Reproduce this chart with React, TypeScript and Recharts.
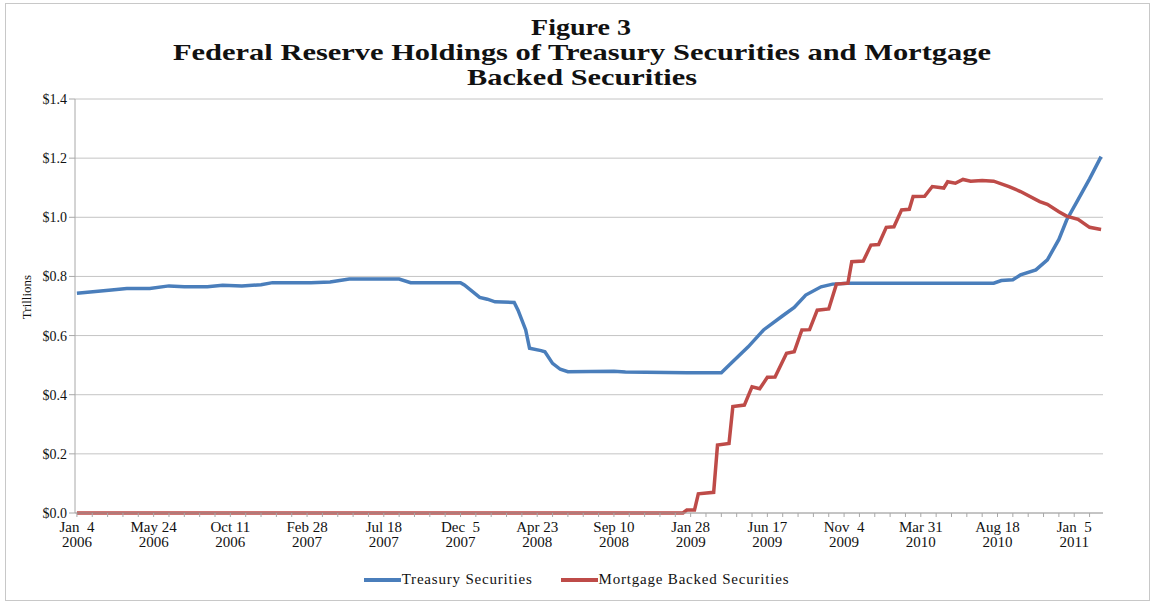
import { LineChart, Line, XAxis, YAxis, CartesianGrid, Legend } from 'recharts';

// week index 0 = Jan 4 2006, weekly observations
const tsWeeks = [0, 9, 13, 19, 24, 28, 34, 38, 43, 48, 51, 61, 66, 71, 84, 87, 100, 101, 105, 107, 109, 114, 115, 117, 118, 121, 122, 124, 126, 128, 140, 143, 159, 168, 170, 175, 179, 184, 187, 190, 194, 197, 201, 239, 241, 244, 246, 250, 253, 256, 258, 261, 264, 267];
const tsValues = [0.743, 0.754, 0.759, 0.759, 0.768, 0.765, 0.765, 0.77, 0.768, 0.772, 0.779, 0.779, 0.781, 0.791, 0.791, 0.779, 0.779, 0.771, 0.729, 0.723, 0.714, 0.712, 0.686, 0.619, 0.557, 0.549, 0.545, 0.506, 0.486, 0.478, 0.479, 0.477, 0.474, 0.474, 0.5, 0.562, 0.619, 0.667, 0.695, 0.737, 0.765, 0.774, 0.777, 0.777, 0.786, 0.789, 0.805, 0.822, 0.856, 0.925, 0.99, 1.06, 1.13, 1.205];

const mbsWeeks = [0, 158, 159, 161, 162, 166, 167, 170, 171, 174, 176, 178, 180, 182, 185, 187, 189, 191, 193, 196, 198, 201, 202, 205, 207, 209, 211, 213, 215, 217, 218, 221, 223, 226, 227, 229, 231, 233, 236, 239, 243, 246, 251, 253, 256, 258, 261, 264, 267];
const mbsValues = [0, 0, 0.01, 0.01, 0.065, 0.07, 0.23, 0.235, 0.36, 0.365, 0.427, 0.42, 0.459, 0.46, 0.54, 0.545, 0.619, 0.62, 0.686, 0.69, 0.774, 0.777, 0.85, 0.852, 0.906, 0.908, 0.966, 0.968, 1.025, 1.027, 1.07, 1.071, 1.104, 1.099, 1.12, 1.115, 1.128, 1.122, 1.124, 1.122, 1.104, 1.087, 1.053, 1.044, 1.019, 1.004, 0.993, 0.966, 0.959];

const tickWeeks = [0, 20, 40, 60, 80, 100, 120, 140, 160, 180, 200, 220, 240, 260];
const tickDays = ['Jan  4', 'May 24', 'Oct 11', 'Feb 28', 'Jul 18', 'Dec  5', 'Apr 23', 'Sep 10', 'Jan 28', 'Jun 17', 'Nov  4', 'Mar 31', 'Aug 18', 'Jan  5'];
const tickYears = ['2006', '2006', '2006', '2007', '2007', '2007', '2008', '2008', '2009', '2009', '2009', '2010', '2010', '2011'];
const minorTicks = [0, 4, 8, 12, 16, 20, 24, 28, 32, 36, 40, 44, 48, 52, 56, 60, 64, 68, 72, 76, 80, 84, 88, 92, 96, 100, 104, 108, 112, 116, 120, 124, 128, 132, 136, 140, 144, 148, 152, 156, 160, 164, 168, 172, 176, 180, 184, 188, 192, 196, 200, 204, 208, 212, 216, 220, 224, 228, 232, 236, 240, 244, 248, 252, 256, 260, 264];
const yTicks = [0, 0.2, 0.4, 0.6, 0.8, 1.0, 1.2, 1.4];

const seriesNames = ['Treasury Securities', 'Mortgage Backed Securities'];
const seriesColors = ['#4a7ebb', '#be4b48'];

const SERIF = '"Liberation Serif", "Times New Roman", serif';

// merge both series into one table keyed by week
const allWeeks = Array.from(new Set([...tsWeeks, ...mbsWeeks])).sort((a, b) => a - b);
const data = allWeeks.map((w) => {
  const ti = tsWeeks.indexOf(w);
  const mi = mbsWeeks.indexOf(w);
  return { w, ts: ti >= 0 ? tsValues[ti] : null, mbs: mi >= 0 ? mbsValues[mi] : null };
});

const XTick = (props: any) => {
  const { x, y, payload } = props;
  const idx = tickWeeks.indexOf(payload.value);
  if (idx < 0) return <g />;
  return (
    <text x={x} y={y} textAnchor="middle" fontFamily={SERIF} fontSize={15} fill="#111" style={{ whiteSpace: 'pre' }}>
      <tspan x={x} dy={13}>{tickDays[idx]}</tspan>
      <tspan x={x} dy={15}>{tickYears[idx]}</tspan>
    </text>
  );
};

const LegendBox = () => (
  <div style={{ display: 'flex', justifyContent: 'center', alignItems: 'center', fontFamily: SERIF, fontSize: 15, letterSpacing: 0.8, color: '#111' }}>
    {seriesNames.map((n, i) => (
      <div key={n} style={{ display: 'flex', alignItems: 'center', marginRight: i === 0 ? 28 : 0 }}>
        <span style={{ display: 'inline-block', width: 37, height: 4, background: seriesColors[i] }} />
        <span style={{ marginLeft: 1 }}>{n}</span>
      </div>
    ))}
  </div>
);

export default function App() {
  return (
    <div style={{ position: 'absolute', left: 0, top: 0, width: 1153, height: 606, background: '#fff' }}>
      <div style={{ position: 'absolute', left: 5, top: 3, width: 1143, height: 596, border: '1px solid #c8c8c8' }} />
      <svg width={1153} height={95} style={{ position: 'absolute', left: 0, top: 0 }}>
        <g fontFamily={SERIF} fontWeight="bold" fontSize={24} fill="#111" textAnchor="middle">
          <text x={581} y={35} textLength={100} lengthAdjust="spacingAndGlyphs">Figure 3</text>
          <text x={582} y={60} textLength={818} lengthAdjust="spacingAndGlyphs">Federal Reserve Holdings of Treasury Securities and Mortgage</text>
          <text x={582} y={85} textLength={230} lengthAdjust="spacingAndGlyphs">Backed Securities</text>
        </g>
      </svg>
      <div style={{ position: 'absolute', left: 0, top: 0 }}>
        <LineChart width={1153} height={606} data={data} margin={{ top: 99, right: 50, left: 0, bottom: 60 }}>
          <CartesianGrid vertical={false} stroke="#c4c4c4" />
          <XAxis
            dataKey="w"
            type="number"
            domain={[-0.5, 267.5]}
            ticks={minorTicks}
            interval={0}
            tick={<XTick />}
            tickSize={4}
            tickLine={{ stroke: '#a8a8a8' }}
            axisLine={{ stroke: '#a8a8a8' }}
            height={33}
            allowDataOverflow
          />
          <YAxis
            type="number"
            domain={[0, 1.4]}
            ticks={yTicks}
            width={75}
            tickSize={6}
            tickLine={{ stroke: '#a8a8a8' }}
            axisLine={{ stroke: '#a8a8a8' }}
            tick={{ fontFamily: SERIF, fontSize: 14, fill: '#111' }}
            tickFormatter={(v: number) => `$${v.toFixed(1)}`}
            label={{
              content: () => (
                <text x={31} y={297} transform="rotate(-90 31 297)" textAnchor="middle" fontFamily={SERIF} fontSize={13} fill="#111">
                  Trillions
                </text>
              ),
            }}
          />
          <Legend
            verticalAlign="middle"
            align="center"
            layout="horizontal"
            wrapperStyle={{ top: 571, left: 0, width: 1153 }}
            content={<LegendBox />}
          />
          <Line type="linear" dataKey="ts" name={seriesNames[0]} stroke={seriesColors[0]} strokeWidth={3.5} dot={false} connectNulls isAnimationActive={false} />
          <Line type="linear" dataKey="mbs" name={seriesNames[1]} stroke={seriesColors[1]} strokeWidth={3.5} dot={false} connectNulls isAnimationActive={false} />
        </LineChart>
      </div>
    </div>
  );
}
